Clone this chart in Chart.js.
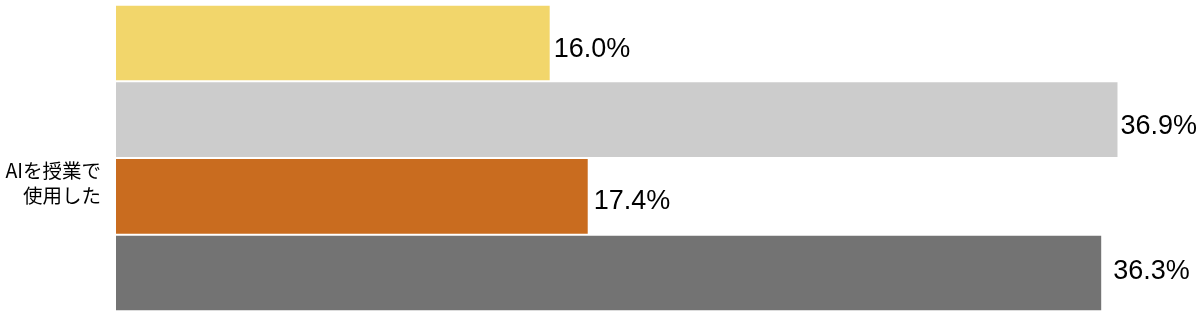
<!DOCTYPE html>
<html><head><meta charset="utf-8">
<script src="https://cdn.jsdelivr.net/npm/chart.js@4"></script>
<style>html,body{margin:0;padding:0;background:#fff}#wrap{width:1200px;height:319px;position:relative}</style>
</head><body><div id="wrap"><canvas id="c"></canvas></div>
<script>
const categories = [["AIを授業で","使用した"]];
const seriesA = [16.0];
const seriesB = [36.9];
const seriesC = [17.4];
const seriesD = [36.3];
const colors = ['#F2D66B','#CCCCCC','#C96C1F','#737373'];
const labelDx = [3, 2, 5, 11];
const labelDy = [6, 7, 5, -1];

const valueLabels = {
  id: 'valueLabels',
  afterDatasetsDraw(chart) {
    const ctx = chart.ctx;
    ctx.save();
    ctx.font = '27px "Liberation Sans", Arial, sans-serif';
    ctx.fillStyle = '#000';
    ctx.textAlign = 'left';
    ctx.textBaseline = 'middle';
    chart.data.datasets.forEach((ds, i) => {
      chart.getDatasetMeta(i).data.forEach((bar, j) => {
        ctx.fillText(ds.data[j].toFixed(1) + '%', bar.x + labelDx[i], bar.y + labelDy[i]);
      });
    });
    ctx.restore();
  }
};

new Chart(document.getElementById('c'), {
  type: 'bar',
  data: {
    labels: categories,
    datasets: [
      {data: seriesA, backgroundColor: colors[0], borderColor: 'rgba(255,255,255,0.5)', borderWidth: 1},
      {data: seriesB, backgroundColor: colors[1], borderColor: 'rgba(255,255,255,0.5)', borderWidth: 1},
      {data: seriesC, backgroundColor: colors[2], borderColor: 'rgba(255,255,255,0.5)', borderWidth: 1},
      {data: seriesD, backgroundColor: colors[3], borderColor: 'rgba(255,255,255,0.5)', borderWidth: 1}
    ]
  },
  options: {
    indexAxis: 'y',
    responsive: true,
    maintainAspectRatio: false,
    animation: false,
    layout: {padding: {top: 0, bottom: 3, left: 0, right: 0}},
    datasets: {bar: {categoryPercentage: 0.97, barPercentage: 1}},
    plugins: {legend: {display: false}, tooltip: {enabled: false}},
    scales: {
      x: {min: 0, max: 39.9, display: false},
      y: {
        grid: {display: false, drawTicks: false},
        border: {display: false},
        afterFit(scale) { scale.width = 116; scale.paddingTop = 0; scale.paddingBottom = 0; },
        ticks: {
          color: '#000',
          padding: 15,
          labelOffset: 25,
          font: {size: 19.5, family: '"Noto Sans CJK JP", sans-serif', lineHeight: 1.3}
        }
      }
    }
  },
  plugins: [valueLabels]
});
</script></body></html>
